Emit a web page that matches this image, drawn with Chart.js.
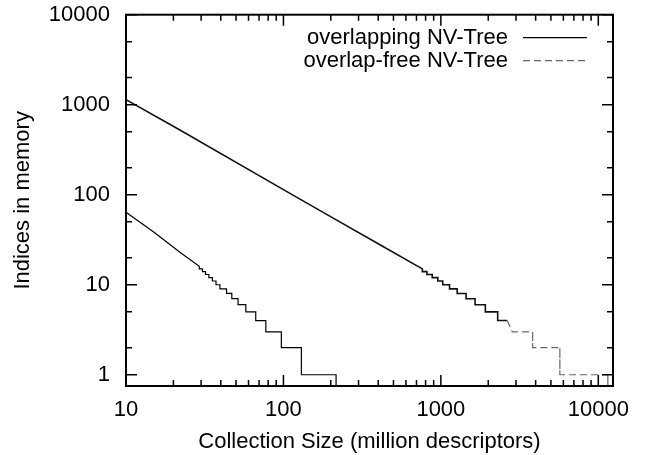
<!DOCTYPE html>
<html>
<head>
<meta charset="utf-8">
<script src="https://cdn.jsdelivr.net/npm/chart.js@4/dist/chart.umd.min.js"></script>
<style>
  html, body { margin: 0; padding: 0; background: #fff; }
  #wrap { width: 654px; height: 455px; position: relative; }
</style>
</head>
<body>
<div id="wrap"><canvas id="c" width="654" height="455"></canvas></div>
<script>
// ---- data ----
const seriesLabels = ['overlapping NV-Tree', 'overlap-free NV-Tree'];

const xOverlapping = [10, 15, 22, 29.2, 29.2, 30.6, 30.6, 32, 32, 33.6, 33.6, 35.4, 35.4, 37.3, 37.3, 39.5, 39.5, 43.5, 43.5, 47, 47, 51.5, 51.5, 57.7, 57.7, 66.7, 66.7, 77.3, 77.3, 97, 97, 130, 130, 216, 216];
const yOverlapping = [64, 38.5, 23, 16, 15, 15, 14, 14, 13, 13, 12, 12, 11, 11, 10, 10, 9, 9, 8, 8, 7, 7, 6, 6, 5, 5, 4, 4, 3, 3, 2, 2, 1, 1, 0.1];

const xOverlapFree = [10, 22, 100, 198, 400, 763, 763, 815, 815, 881, 881, 956, 956, 1028, 1028, 1135, 1135, 1269, 1269, 1446, 1446, 1649, 1649, 1917, 1917, 2296, 2296, 2640, 2840, 3828, 3828, 5700, 5700, 11500, 11500];
const yOverlapFree = [1140, 523, 114, 57.5, 28.5, 15, 14, 14, 13, 13, 12, 12, 11, 11, 10, 10, 9, 9, 8, 8, 7, 7, 6, 6, 5, 5, 4, 4, 3, 3, 2, 2, 1, 1, 0.1];

const xTicks = [10, 100, 1000, 10000];
const yTicks = [1, 10, 100, 1000, 10000];
const xMinorTicks = [20,30,40,50,60,70,80,90,200,300,400,500,600,700,800,900,2000,3000,4000,5000,6000,7000,8000,9000];
const yMinorTicks = [2,5,20,50,200,500,2000,5000];
const xRange = [10, 12400];
const yRange = [0.75, 10000];

const FONT = '"Liberation Sans", Arial, Helvetica, sans-serif';
const DASHED_FROM = 2640;

const toPoints = (xs, ys) => xs.map((x, i) => ({x: x, y: ys[i]}));

const frameTicks = {
  id: 'frameTicks',
  afterDatasetsDraw(chart) {
    const {ctx, chartArea: a, scales: {x, y}} = chart;
    ctx.save();
    ctx.strokeStyle = '#000';
    ctx.lineWidth = 1.5;
    ctx.beginPath();
    const vTick = (v, len) => {
      const px = x.getPixelForValue(v);
      ctx.moveTo(px, a.bottom); ctx.lineTo(px, a.bottom - len);
      ctx.moveTo(px, a.top); ctx.lineTo(px, a.top + len);
    };
    const hTick = (v, len) => {
      const py = y.getPixelForValue(v);
      ctx.moveTo(a.left, py); ctx.lineTo(a.left + len, py);
      ctx.moveTo(a.right, py); ctx.lineTo(a.right - len, py);
    };
    xTicks.forEach(v => vTick(v, 11));
    xMinorTicks.forEach(v => vTick(v, 6));
    yTicks.forEach(v => hTick(v, 11));
    yMinorTicks.forEach(v => hTick(v, 6));
    ctx.stroke();
    ctx.lineWidth = 2;
    ctx.strokeRect(a.left, a.top, a.right - a.left, a.bottom - a.top);

    // legend (top right, inside plot)
    ctx.font = '22px ' + FONT;
    ctx.fillStyle = '#000';
    ctx.textAlign = 'right';
    ctx.textBaseline = 'middle';
    const tx = a.right - 105, sx0 = a.right - 90, sx1 = a.right - 26;
    const rows = [a.top + 23, a.top + 46];
    ctx.fillText(seriesLabels[0], tx, rows[0]);
    ctx.fillText(seriesLabels[1], tx, rows[1]);
    ctx.lineWidth = 1.2;
    ctx.strokeStyle = '#000';
    ctx.setLineDash([]);
    ctx.beginPath(); ctx.moveTo(sx0, rows[0]); ctx.lineTo(sx1, rows[0]); ctx.stroke();
    ctx.strokeStyle = '#666';
    ctx.setLineDash([7, 4]);
    ctx.beginPath(); ctx.moveTo(sx0, rows[1]); ctx.lineTo(sx1, rows[1]); ctx.stroke();
    ctx.restore();
  }
};

Chart.defaults.font.family = FONT;
Chart.defaults.font.size = 22;
Chart.defaults.color = '#000';

new Chart(document.getElementById('c'), {
  type: 'scatter',
  data: {
    datasets: [
      {
        label: seriesLabels[0],
        data: toPoints(xOverlapping, yOverlapping),
        showLine: true,
        borderColor: '#000',
        borderWidth: 1.2,
        pointRadius: 0,
        fill: false,
        tension: 0
      },
      {
        label: seriesLabels[1],
        data: toPoints(xOverlapFree, yOverlapFree),
        showLine: true,
        borderColor: '#111',
        borderWidth: 1.6,
        pointRadius: 0,
        fill: false,
        tension: 0,
        segment: {
          borderColor: c => c.p0.parsed.x >= DASHED_FROM ? '#666' : '#111',
          borderDash: c => c.p0.parsed.x >= DASHED_FROM ? [7, 4] : [],
          borderWidth: c => c.p0.parsed.x >= DASHED_FROM ? 1.2 : 1.6
        }
      }
    ]
  },
  options: {
    responsive: false,
    animation: false,
    events: [],
    layout: { padding: { top: 14.7, right: 41, left: 0, bottom: 0 } },
    plugins: { legend: { display: false }, tooltip: { enabled: false } },
    scales: {
      x: {
        type: 'logarithmic',
        min: xRange[0], max: xRange[1],
        grid: { display: false, drawTicks: false },
        border: { display: false },
        ticks: { padding: 11, autoSkip: false, maxRotation: 0, callback: v => String(v) },
        afterBuildTicks: s => { s.ticks = xTicks.map(v => ({value: v})); },
        afterFit: s => { s.height = 69; },
        title: { display: true, text: 'Collection Size (million descriptors)', padding: { top: 0, bottom: 0 } }
      },
      y: {
        type: 'logarithmic',
        min: yRange[0], max: yRange[1],
        grid: { display: false, drawTicks: true, tickLength: 16 },
        border: { display: false },
        ticks: { padding: 0, autoSkip: false, callback: v => String(v) },
        afterBuildTicks: s => { s.ticks = yTicks.map(v => ({value: v})); },
        afterFit: s => { s.width = 126; },
        title: { display: true, text: 'Indices in memory', padding: { top: 10, bottom: 0 } }
      }
    }
  },
  plugins: [frameTicks]
});
</script>
</body>
</html>
